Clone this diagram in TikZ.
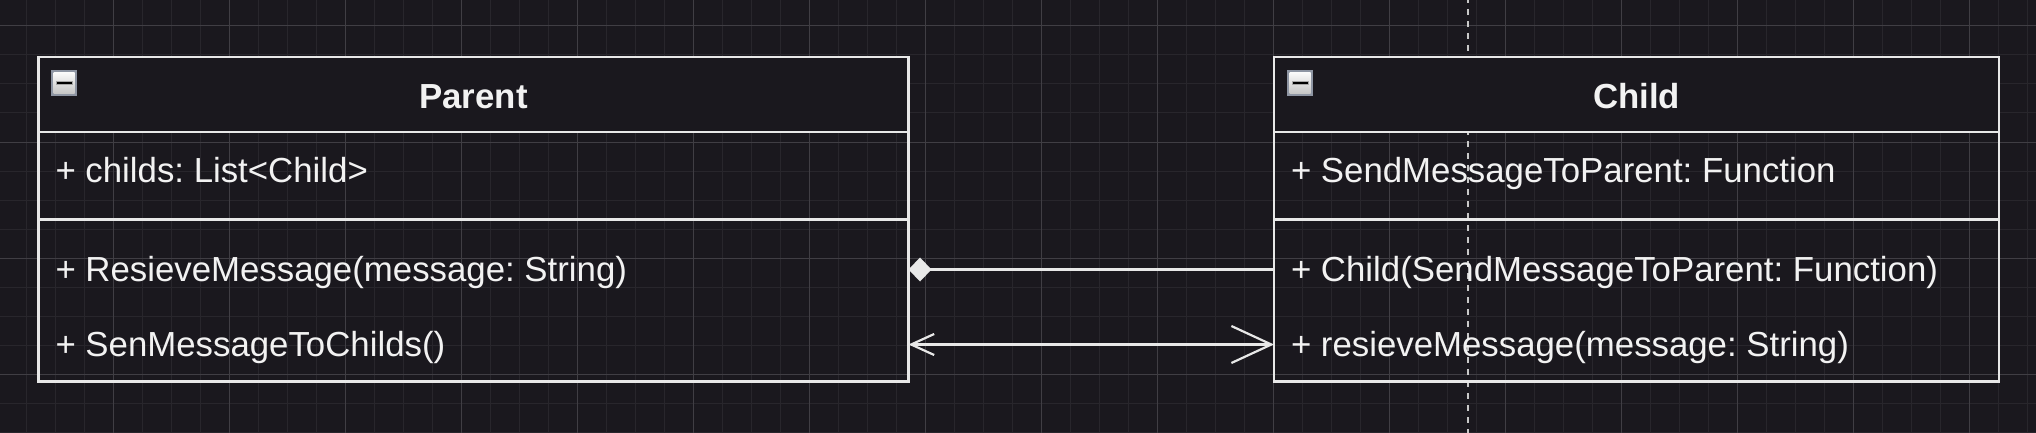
\documentclass[tikz,border=0pt]{standalone}
\usepackage{fontspec}
\setmainfont{Liberation Sans}
\usetikzlibrary{arrows.meta,calc}
\definecolor{bgc}{HTML}{1A181E}
\definecolor{gridminor}{HTML}{28262C}
\definecolor{gridmajor}{HTML}{403E44}
\definecolor{linec}{HTML}{E8E8E8}
\definecolor{textc}{HTML}{F2F2F2}
\definecolor{pagedash}{HTML}{C8C8C8}
\definecolor{iconborder}{HTML}{8E95A3}
\frenchspacing
\begin{document}
\begin{tikzpicture}[x=1pt,y=-1pt,
  umlbox/.style={draw=linec, line width=2.2pt, rectangle, inner sep=0pt, outer sep=0pt},
  headbox/.style={umlbox, fill=bgc},
  rowtext/.style={text=textc, font=\fontsize{34.8pt}{41pt}\selectfont, inner xsep=17pt, inner ysep=0pt, text height=24.9pt, text depth=0pt, anchor=west, outer sep=0pt},
  titletext/.style={rowtext, font=\fontsize{34.8pt}{41pt}\selectfont\bfseries, anchor=center, inner xsep=0pt},
  conn/.style={draw=linec, line width=2.2pt},
  minorline/.style={draw=gridminor, line width=1pt},
  majorline/.style={draw=gridmajor, line width=1pt},
  pageline/.style={draw=pagedash, line width=2pt, dash pattern=on 6pt off 6pt, dash phase=3pt}
]
\useasboundingbox (0,0) rectangle (2036,433);
\fill[bgc] (0,0) rectangle (2036,433);
% grid
\foreach \k in {0,...,71} {\draw[minorline] ({-3+29*\k},0) -- ({-3+29*\k},433);}
\foreach \k in {0,...,15} {\draw[minorline] (0,{-3+29*\k}) -- (2036,{-3+29*\k});}
\foreach \k in {0,...,17} {\draw[majorline] ({-3+116*\k},0) -- ({-3+116*\k},433);}
\foreach \k in {0,...,3} {\draw[majorline] (0,{26+116*\k}) -- (2036,{26+116*\k});}
% page boundary
\draw[pageline] (1468,0) -- (1468,433);
% Parent class
\node[umlbox, minimum width=870pt, minimum height=324.5pt, anchor=north west] (parent) at (38.5,57) {};
\node[headbox, minimum width=870pt, minimum height=75.3pt, anchor=north west] (parenthead) at (38.5,57) {};
\draw[conn] (parent.west |- 0,219.5) -- (parent.east |- 0,219.5);
\node[titletext] (parenttitle) at ($(parenthead.center)+(0,1.4)$) {Parent};
\node[rowtext] (pattr) at (38.5,170.5) {+ childs: List<Child>};
\node[rowtext] (prow1) at (38.5,269.5) {+ ResieveMessage(message: String)};
\node[rowtext] (prow2) at (38.5,344.5) {+ SenMessageToChilds()};
% Child class
\node[umlbox, minimum width=725pt, minimum height=324.5pt, anchor=north west] (child) at (1274,57) {};
\node[headbox, minimum width=725pt, minimum height=75.3pt, anchor=north west] (childhead) at (1274,57) {};
\draw[conn] (child.west |- 0,219.5) -- (child.east |- 0,219.5);
\node[titletext] (childtitle) at ($(childhead.center)+(0,1.4)$) {Child};
\node[rowtext] (cattr) at (1274,170.5) {+ SendMessageToParent: Function};
\node[rowtext] (crow1) at (1274,269.5) {+ Child(SendMessageToParent: Function)};
\node[rowtext] (crow2) at (1274,344.5) {+ resieveMessage(message: String)};
% collapse icons
\foreach \ox in {0,1236} {
  \fill[iconborder] ({51+\ox},70) rectangle ({77+\ox},96);
  \shade[top color=white!96!gray, bottom color=gray!45] ({53.5+\ox},72.5) rectangle ({74.5+\ox},93.5);
  \draw[fill=black, draw=gray!70, line width=0.8pt] ({56+\ox},81.5) rectangle ({72+\ox},84.5);
}
% connectors
\draw[conn, {Diamond[length=23pt,width=24pt,fill=linec]}-] (parent.east |- prow1.west) -- (child.west |- crow1.west);
\draw[conn, {Straight Barb[length=23pt,width=21pt]}-{Straight Barb[length=40pt,width=37pt]}] (parent.east |- prow2.west) -- (child.west |- crow2.west);
\end{tikzpicture}
\end{document}
